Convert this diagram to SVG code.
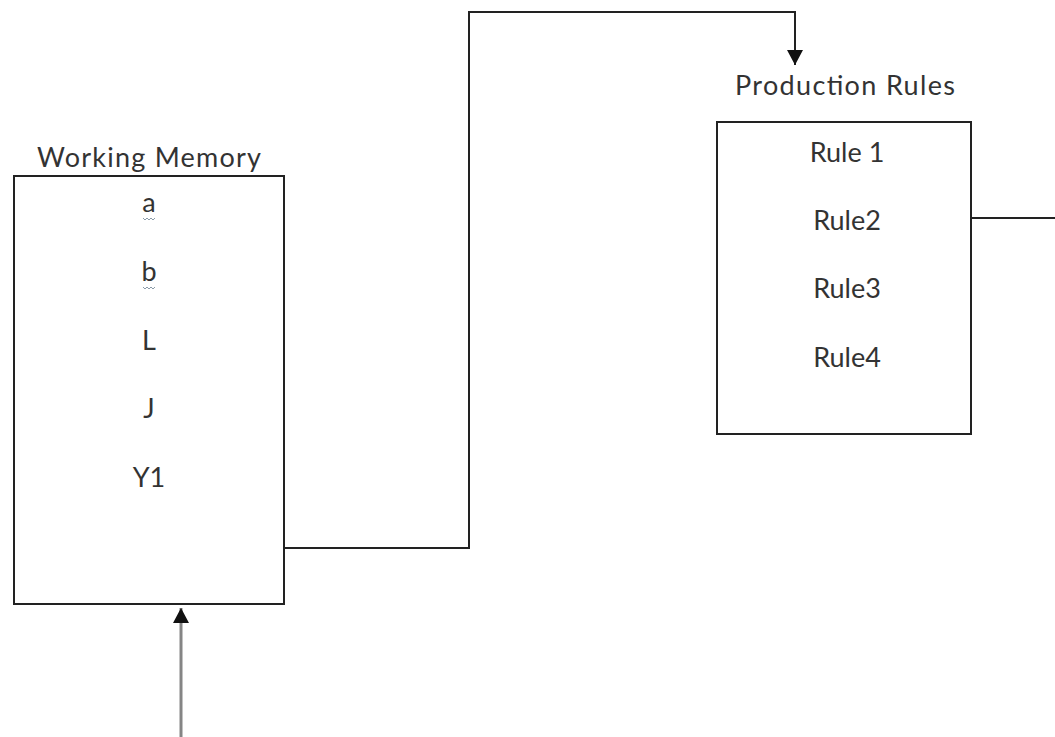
<svg xmlns="http://www.w3.org/2000/svg" width="1055" height="737" viewBox="0 0 1055 737">
<defs>
<style>
.box{fill:#fff;stroke:#222;stroke-width:2}
.t{font-family:Lato,"Open Sans","Liberation Sans",sans-serif;font-size:27px;fill:#333;text-anchor:middle}
.line{fill:none;stroke:#222;stroke-width:2}
.gline{fill:none;stroke:#858585;stroke-width:3}
.squig{fill:none;stroke:#8a9aa8;stroke-width:1}
</style>
<marker id="ah" markerWidth="16" markerHeight="16" refX="15" refY="8" orient="auto" markerUnits="userSpaceOnUse">
<path d="M0,0 L15,8 L0,16 Z" fill="#111"/>
</marker>
</defs>
<rect width="1055" height="737" fill="#fff"/>
<g id="working-memory">
<rect class="box" x="14" y="176" width="270" height="428"/>
<text class="t" x="149" y="167" textLength="224" lengthAdjust="spacing">Working Memory</text>
<text class="t" x="149" y="212">a</text>
<path class="squig" d="M143,218 l2,2 l2,-2 l2,2 l2,-2 l2,2 l2,-2"/>
<text class="t" x="149" y="281">b</text>
<path class="squig" d="M143,287 l2,2 l2,-2 l2,2 l2,-2 l2,2 l2,-2"/>
<text class="t" x="149" y="350">L</text>
<text class="t" x="149" y="418">J</text>
<text class="t" x="149" y="487">Y1</text>
</g>
<g id="production-rules">
<rect class="box" x="717" y="122" width="254" height="312"/>
<text class="t" x="845" y="95" textLength="220" lengthAdjust="spacing">Production Rules</text>
<text class="t" x="847" y="162">Rule 1</text>
<text class="t" x="847" y="230">Rule2</text>
<text class="t" x="847" y="298">Rule3</text>
<text class="t" x="847" y="367">Rule4</text>
</g>
<g id="connectors">
<path class="line" d="M284,548 H469 V12 H795 V65" marker-end="url(#ah)"/>
<path class="line" d="M971,218 H1055"/>
<path class="gline" d="M181,737 V608" marker-end="url(#ah)"/>
</g>
</svg>
